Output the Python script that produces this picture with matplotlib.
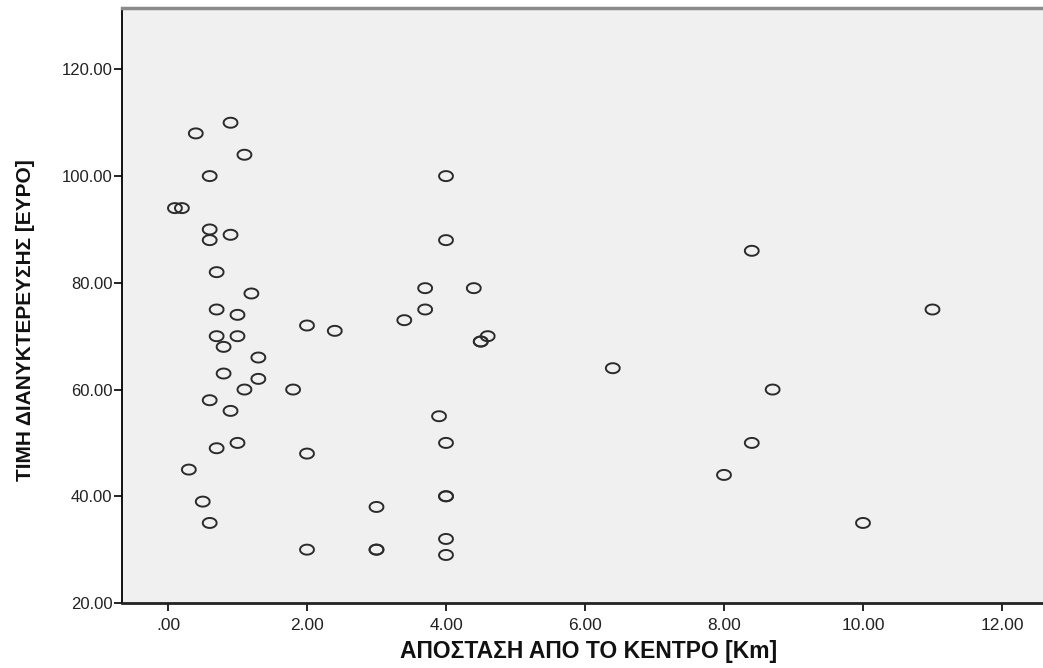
import numpy as np
import matplotlib
matplotlib.use('Agg')
import matplotlib.pyplot as plt
from matplotlib.ticker import FuncFormatter

# distance from centre (km) and overnight price (euro) per hotel
dist = [0.4, 0.9, 1.1, 0.6, 0.1, 0.2, 0.6, 0.6, 0.9, 0.7,
        1.2, 0.7, 1.0, 0.7, 1.0, 0.8, 1.3, 0.8, 1.3, 1.1,
        1.8, 0.6, 0.9, 1.0, 0.7, 0.3, 0.5, 0.6,
        2.0, 2.4, 2.0, 2.0,
        3.0, 3.0, 3.0, 3.4, 3.7, 3.7,
        4.0, 4.0, 4.4, 4.5, 4.5, 4.6, 3.9, 4.0, 4.0, 4.0, 4.0, 4.0,
        6.4, 8.4, 8.7, 8.4, 8.0, 10.0, 11.0]
price = [108, 110, 104, 100, 94, 94, 90, 88, 89, 82,
         78, 75, 74, 70, 70, 68, 66, 63, 62, 60,
         60, 58, 56, 50, 49, 45, 39, 35,
         72, 71, 48, 30,
         38, 30, 30, 73, 79, 75,
         100, 88, 79, 69, 69, 70, 55, 50, 40, 40, 32, 29,
         64, 86, 60, 50, 44, 35, 75]

xticks = [0, 2, 4, 6, 8, 10, 12]
yticks = [20, 40, 60, 80, 100, 120]
xlabel = 'ΑΠΟΣΤΑΣΗ ΑΠΟ ΤΟ ΚΕΝΤΡΟ [Km]'
ylabel = 'ΤΙΜΗ ΔΙΑΝΥΚΤΕΡΕΥΣΗΣ [ΕΥΡΟ]'

fam = ['Liberation Sans', 'DejaVu Sans']

fig = plt.figure(figsize=(10.43, 6.68), dpi=100)
fig.patch.set_facecolor('white')
ax = fig.add_axes([122 / 1043, 65 / 668, 921 / 1043, 595 / 668])
ax.set_facecolor('#f0f0f0')

# slightly flattened open circle, like the SPSS default marker
t = np.linspace(0, 2 * np.pi, 40)
ell = np.column_stack([np.cos(t), 0.72 * np.sin(t)])
ax.scatter(dist, price, marker=ell, s=100, facecolors='none',
           edgecolors='#2b2b2b', linewidths=1.4, zorder=3)

ax.set_xlim(-0.662, 12.59)
ax.set_ylim(20, 131.5)

ax.set_xticks(xticks)
ax.set_yticks(yticks)
ax.xaxis.set_major_formatter(FuncFormatter(lambda v, p: '.00' if v == 0 else '%.2f' % v))
ax.yaxis.set_major_formatter(FuncFormatter(lambda v, p: '%.2f' % v))
ax.tick_params(axis='both', direction='out', length=6, width=1.2, color='black')
ax.tick_params(axis='x', pad=5)
ax.tick_params(axis='y', pad=1)

for lab in ax.get_xticklabels():
    lab.set_family(fam)
    lab.set_fontsize(12.5)
    lab.set_color('#222222')
for lab in ax.get_yticklabels():
    lab.set_family(fam)
    lab.set_fontsize(12)
    lab.set_color('#222222')

ax.spines['right'].set_visible(False)
ax.spines['top'].set_color('#8a8a8a')
ax.spines['top'].set_linewidth(2.5)
ax.spines['left'].set_color('black')
ax.spines['left'].set_linewidth(1.3)
ax.spines['bottom'].set_color('#222222')
ax.spines['bottom'].set_linewidth(2)

ax.set_xlabel(xlabel, family=fam, fontsize=16.5, fontweight='bold', color='#111111', va='center')
ax.xaxis.set_label_coords(0.507, -0.081)
ax.set_ylabel(ylabel, family=fam, fontsize=15, fontweight='bold', color='#111111', va='center')
ax.yaxis.set_label_coords(-0.105, 0.476)

fig.savefig('out.png', dpi=100)
